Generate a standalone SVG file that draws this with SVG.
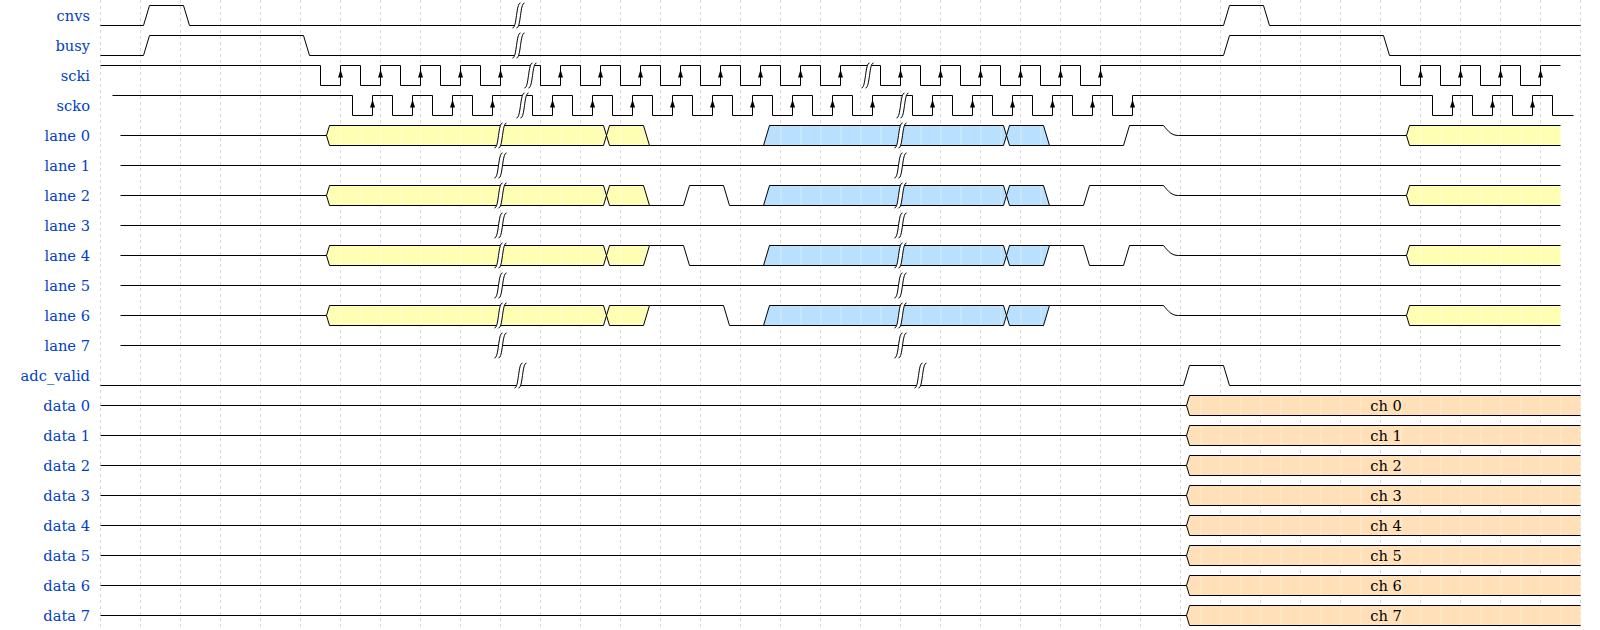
<svg xmlns="http://www.w3.org/2000/svg" xmlns:xlink="http://www.w3.org/1999/xlink" width="1600" height="630" viewBox="0 0 1600 630">
<style>
.lbl{font-family:"DejaVu Serif","Liberation Serif",serif;font-size:14.67px;fill:#0041c4;text-anchor:end}
.dl{font-family:"DejaVu Serif","Liberation Serif",serif;font-size:14.67px;fill:#000;text-anchor:middle}
.w{fill:none;stroke:#000;stroke-width:1}
.grid{fill:none;stroke:#d8d8d8;stroke-width:1;stroke-dasharray:3,3}
.fy{fill:url(#py);stroke:none}
.fb{fill:url(#pb);stroke:none}
.fo{fill:url(#po);stroke:none}
</style>
<defs>
<pattern id="py" patternUnits="userSpaceOnUse" x="100" y="0" width="20" height="630"><rect width="20" height="630" fill="#ffffb4"/><rect width="1" height="630" fill="#fff" opacity="0.35"/></pattern>
<pattern id="pb" patternUnits="userSpaceOnUse" x="100" y="0" width="20" height="630"><rect width="20" height="630" fill="#b9e0ff"/><rect width="1" height="630" fill="#fff" opacity="0.35"/></pattern>
<pattern id="po" patternUnits="userSpaceOnUse" x="100" y="0" width="20" height="630"><rect width="20" height="630" fill="#ffe0b9"/><rect width="1" height="630" fill="#fff" opacity="0.35"/></pattern>
<g id="gap">
<path d="M-6,12.5 C-1.5,12.5 -2.5,-12.5 2,-12.5 L6,-12.5 C1.5,-12.5 2.5,12.5 -2,12.5 Z" fill="#fff" stroke="none"/>
<path d="M-6,12.5 C-1.5,12.5 -2.5,-12.5 2,-12.5" fill="none" stroke="#000" stroke-width="1"/>
<path d="M-2,12.5 C2.5,12.5 1.5,-12.5 6,-12.5" fill="none" stroke="#000" stroke-width="1"/>
</g>
<path id="ar" d="M0,0 L2.5,8 L-2.5,8 Z" fill="#000"/>
</defs>
<rect width="1600" height="630" fill="#fff"/>
<g id="grid" class="grid" transform="translate(.5 0)">
<path d="M100,0V630M140,0V630M180,0V630M220,0V630M260,0V630M300,0V630M340,0V630M380,0V630M420,0V630M460,0V630M500,0V630M540,0V630M580,0V630M620,0V630M660,0V630M700,0V630M740,0V630M780,0V630M820,0V630M860,0V630M900,0V630M940,0V630M980,0V630M1020,0V630M1060,0V630M1100,0V630M1140,0V630M1180,0V630M1220,0V630M1260,0V630M1300,0V630M1340,0V630M1380,0V630M1420,0V630M1460,0V630M1500,0V630M1540,0V630M1580,0V630"/>
</g>
<g id="sig-cnvs">
<text class="lbl" x="90" y="20.7">cnvs</text>
<g transform="translate(.5 .5)"><path class="w" d="M100,25 H143 L149,5 H183 L189,25 H1223 L1229,5 H1263 L1269,25 H1580"/><use href="#gap" x="518" y="15"/></g>
</g>
<g id="sig-busy">
<text class="lbl" x="90" y="50.7">busy</text>
<g transform="translate(.5 .5)"><path class="w" d="M100,55 H143 L149,35 H303 L309,55 H1223 L1229,35 H1383 L1389,55 H1580"/><use href="#gap" x="518" y="45"/></g>
</g>
<g id="sig-scki">
<text class="lbl" x="90" y="80.7">scki</text>
<g transform="translate(.5 .5)"><path class="w" d="M100,65 H320 V85 H340 V65 H360 V85 H380 V65 H400 V85 H420 V65 H440 V85 H460 V65 H480 V85 H500 V65 H540 V85 H560 V65 H580 V85 H600 V65 H620 V85 H640 V65 H660 V85 H680 V65 H700 V85 H720 V65 H740 V85 H760 V65 H780 V85 H800 V65 H820 V85 H840 V65 H880 V85 H900 V65 H920 V85 H940 V65 H960 V85 H980 V65 H1000 V85 H1020 V65 H1040 V85 H1060 V65 H1080 V85 H1100 V65 H1400 V85 H1420 V65 H1440 V85 H1460 V65 H1480 V85 H1500 V65 H1520 V85 H1540 V65 H1560"/>
<use href="#ar" x="340" y="69"/><use href="#ar" x="380" y="69"/><use href="#ar" x="420" y="69"/><use href="#ar" x="460" y="69"/><use href="#ar" x="500" y="69"/><use href="#ar" x="560" y="69"/><use href="#ar" x="600" y="69"/><use href="#ar" x="640" y="69"/><use href="#ar" x="680" y="69"/><use href="#ar" x="720" y="69"/><use href="#ar" x="760" y="69"/><use href="#ar" x="800" y="69"/><use href="#ar" x="840" y="69"/><use href="#ar" x="900" y="69"/><use href="#ar" x="940" y="69"/><use href="#ar" x="980" y="69"/><use href="#ar" x="1020" y="69"/><use href="#ar" x="1060" y="69"/><use href="#ar" x="1100" y="69"/><use href="#ar" x="1420" y="69"/><use href="#ar" x="1460" y="69"/><use href="#ar" x="1500" y="69"/><use href="#ar" x="1540" y="69"/>
<use href="#gap" x="530" y="75"/><use href="#gap" x="867" y="75"/></g>
</g>
<g id="sig-scko">
<text class="lbl" x="90" y="110.7">scko</text>
<g transform="translate(.5 .5)"><path class="w" d="M112,95 H352 V115 H372 V95 H392 V115 H412 V95 H432 V115 H452 V95 H472 V115 H492 V95 H532 V115 H552 V95 H572 V115 H592 V95 H612 V115 H632 V95 H652 V115 H672 V95 H692 V115 H712 V95 H732 V115 H752 V95 H772 V115 H792 V95 H812 V115 H832 V95 H852 V115 H872 V95 H912 V115 H932 V95 H952 V115 H972 V95 H992 V115 H1012 V95 H1032 V115 H1052 V95 H1072 V115 H1092 V95 H1112 V115 H1132 V95 H1432 V115 H1452 V95 H1472 V115 H1492 V95 H1512 V115 H1532 V95 H1552 V115 H1573"/>
<use href="#ar" x="372" y="99"/><use href="#ar" x="412" y="99"/><use href="#ar" x="452" y="99"/><use href="#ar" x="492" y="99"/><use href="#ar" x="552" y="99"/><use href="#ar" x="592" y="99"/><use href="#ar" x="632" y="99"/><use href="#ar" x="672" y="99"/><use href="#ar" x="712" y="99"/><use href="#ar" x="752" y="99"/><use href="#ar" x="792" y="99"/><use href="#ar" x="832" y="99"/><use href="#ar" x="872" y="99"/><use href="#ar" x="932" y="99"/><use href="#ar" x="972" y="99"/><use href="#ar" x="1012" y="99"/><use href="#ar" x="1052" y="99"/><use href="#ar" x="1092" y="99"/><use href="#ar" x="1132" y="99"/><use href="#ar" x="1452" y="99"/><use href="#ar" x="1492" y="99"/><use href="#ar" x="1532" y="99"/>
<use href="#gap" x="522" y="105"/><use href="#gap" x="902" y="105"/></g>
</g>
<g id="sig-lane0">
<text class="lbl" x="90" y="140.7">lane 0</text>
<g transform="translate(.5 .5)">
<path class="fy" d="M326,135 L329,125 H603 L606,135 L603,145 H329 Z M606,135 L609,125 H643 L649,145 H609 Z M1406,135 L1409,125 H1560 V145 H1409 Z"/>
<path class="fb" d="M763,145 L769,125 H1003 L1006,135 L1003,145 Z M1006,135 L1009,125 H1043 L1049,145 H1009 Z"/>
<path class="w" d="M120,135 H326 L329,125 H603 L609,145 H763 L769,125 H1003 L1009,145 H1123 L1129,125 H1163 C1168,131 1171,135 1178,135 H1406 L1409,125 H1560 M326,135 L329,145 H603 L609,125 H643 L649,145 M763,145 H1003 L1009,125 H1043 L1049,145 M1406,135 L1409,145 H1560"/>
<use href="#gap" x="500" y="135"/><use href="#gap" x="900" y="135"/></g>
</g>
<g id="sig-lane1">
<text class="lbl" x="90" y="170.7">lane 1</text>
<g transform="translate(.5 .5)"><path class="w" d="M120,165 H1560"/><use href="#gap" x="500" y="165"/><use href="#gap" x="900" y="165"/></g>
</g>
<g id="sig-lane2">
<text class="lbl" x="90" y="200.7">lane 2</text>
<g transform="translate(.5 .5)">
<path class="fy" d="M326,195 L329,185 H603 L606,195 L603,205 H329 Z M606,195 L609,185 H643 L649,205 H609 Z M1406,195 L1409,185 H1560 V205 H1409 Z"/>
<path class="fb" d="M763,205 L769,185 H1003 L1006,195 L1003,205 Z M1006,195 L1009,185 H1043 L1049,205 H1009 Z"/>
<path class="w" d="M120,195 H326 L329,185 H603 L609,205 H683 L689,185 H723 L729,205 H763 L769,185 H1003 L1009,205 H1083 L1089,185 H1163 C1168,191 1171,195 1178,195 H1406 L1409,185 H1560 M326,195 L329,205 H603 L609,185 H643 L649,205 M763,205 H1003 L1009,185 H1043 L1049,205 M1406,195 L1409,205 H1560"/>
<use href="#gap" x="500" y="195"/><use href="#gap" x="900" y="195"/></g>
</g>
<g id="sig-lane3">
<text class="lbl" x="90" y="230.7">lane 3</text>
<g transform="translate(.5 .5)"><path class="w" d="M120,225 H1560"/><use href="#gap" x="500" y="225"/><use href="#gap" x="900" y="225"/></g>
</g>
<g id="sig-lane4">
<text class="lbl" x="90" y="260.7">lane 4</text>
<g transform="translate(.5 .5)">
<path class="fy" d="M326,255 L329,245 H603 L606,255 L603,265 H329 Z M606,255 L609,245 H649 L643,265 H609 Z M1406,255 L1409,245 H1560 V265 H1409 Z"/>
<path class="fb" d="M763,265 L769,245 H1003 L1006,255 L1003,265 Z M1006,255 L1009,245 H1049 L1043,265 H1009 Z"/>
<path class="w" d="M120,255 H326 L329,245 H603 L609,265 H643 L649,245 H683 L689,265 H763 L769,245 H1003 L1009,265 H1043 L1049,245 H1083 L1089,265 H1123 L1129,245 H1163 C1168,251 1171,255 1178,255 H1406 L1409,245 H1560 M326,255 L329,265 H603 L609,245 H649 M763,265 H1003 L1009,245 H1049 M1406,255 L1409,265 H1560"/>
<use href="#gap" x="500" y="255"/><use href="#gap" x="900" y="255"/></g>
</g>
<g id="sig-lane5">
<text class="lbl" x="90" y="290.7">lane 5</text>
<g transform="translate(.5 .5)"><path class="w" d="M120,285 H1560"/><use href="#gap" x="500" y="285"/><use href="#gap" x="900" y="285"/></g>
</g>
<g id="sig-lane6">
<text class="lbl" x="90" y="320.7">lane 6</text>
<g transform="translate(.5 .5)">
<path class="fy" d="M326,315 L329,305 H603 L606,315 L603,325 H329 Z M606,315 L609,305 H649 L643,325 H609 Z M1406,315 L1409,305 H1560 V325 H1409 Z"/>
<path class="fb" d="M763,325 L769,305 H1003 L1006,315 L1003,325 Z M1006,315 L1009,305 H1049 L1043,325 H1009 Z"/>
<path class="w" d="M120,315 H326 L329,305 H603 L609,325 H643 L649,305 H723 L729,325 H763 L769,305 H1003 L1009,325 H1043 L1049,305 H1163 C1168,311 1171,315 1178,315 H1406 L1409,305 H1560 M326,315 L329,325 H603 L609,305 H649 M763,325 H1003 L1009,305 H1049 M1406,315 L1409,325 H1560"/>
<use href="#gap" x="500" y="315"/><use href="#gap" x="900" y="315"/></g>
</g>
<g id="sig-lane7">
<text class="lbl" x="90" y="350.7">lane 7</text>
<g transform="translate(.5 .5)"><path class="w" d="M120,345 H1560"/><use href="#gap" x="500" y="345"/><use href="#gap" x="900" y="345"/></g>
</g>
<g id="sig-adc_valid">
<text class="lbl" x="90" y="380.7">adc_valid</text>
<g transform="translate(.5 .5)"><path class="w" d="M100,385 H1183 L1189,365 H1223 L1229,385 H1580"/><use href="#gap" x="520" y="375"/><use href="#gap" x="920" y="375"/></g>
</g>
<g id="sig-data0">
<text class="lbl" x="90" y="410.7">data 0</text>
<g transform="translate(.5 .5)"><path class="fo" d="M1186,405 L1189,395 H1580 V415 H1189 Z"/><path class="w" d="M100,405 H1186 L1189,395 H1580 M1186,405 L1189,415 H1580"/></g>
<text class="dl" x="1386" y="410.7">ch 0</text>
</g>
<g id="sig-data1">
<text class="lbl" x="90" y="440.7">data 1</text>
<g transform="translate(.5 .5)"><path class="fo" d="M1186,435 L1189,425 H1580 V445 H1189 Z"/><path class="w" d="M100,435 H1186 L1189,425 H1580 M1186,435 L1189,445 H1580"/></g>
<text class="dl" x="1386" y="440.7">ch 1</text>
</g>
<g id="sig-data2">
<text class="lbl" x="90" y="470.7">data 2</text>
<g transform="translate(.5 .5)"><path class="fo" d="M1186,465 L1189,455 H1580 V475 H1189 Z"/><path class="w" d="M100,465 H1186 L1189,455 H1580 M1186,465 L1189,475 H1580"/></g>
<text class="dl" x="1386" y="470.7">ch 2</text>
</g>
<g id="sig-data3">
<text class="lbl" x="90" y="500.7">data 3</text>
<g transform="translate(.5 .5)"><path class="fo" d="M1186,495 L1189,485 H1580 V505 H1189 Z"/><path class="w" d="M100,495 H1186 L1189,485 H1580 M1186,495 L1189,505 H1580"/></g>
<text class="dl" x="1386" y="500.7">ch 3</text>
</g>
<g id="sig-data4">
<text class="lbl" x="90" y="530.7">data 4</text>
<g transform="translate(.5 .5)"><path class="fo" d="M1186,525 L1189,515 H1580 V535 H1189 Z"/><path class="w" d="M100,525 H1186 L1189,515 H1580 M1186,525 L1189,535 H1580"/></g>
<text class="dl" x="1386" y="530.7">ch 4</text>
</g>
<g id="sig-data5">
<text class="lbl" x="90" y="560.7">data 5</text>
<g transform="translate(.5 .5)"><path class="fo" d="M1186,555 L1189,545 H1580 V565 H1189 Z"/><path class="w" d="M100,555 H1186 L1189,545 H1580 M1186,555 L1189,565 H1580"/></g>
<text class="dl" x="1386" y="560.7">ch 5</text>
</g>
<g id="sig-data6">
<text class="lbl" x="90" y="590.7">data 6</text>
<g transform="translate(.5 .5)"><path class="fo" d="M1186,585 L1189,575 H1580 V595 H1189 Z"/><path class="w" d="M100,585 H1186 L1189,575 H1580 M1186,585 L1189,595 H1580"/></g>
<text class="dl" x="1386" y="590.7">ch 6</text>
</g>
<g id="sig-data7">
<text class="lbl" x="90" y="620.7">data 7</text>
<g transform="translate(.5 .5)"><path class="fo" d="M1186,615 L1189,605 H1580 V625 H1189 Z"/><path class="w" d="M100,615 H1186 L1189,605 H1580 M1186,615 L1189,625 H1580"/></g>
<text class="dl" x="1386" y="620.7">ch 7</text>
</g>
</svg>
